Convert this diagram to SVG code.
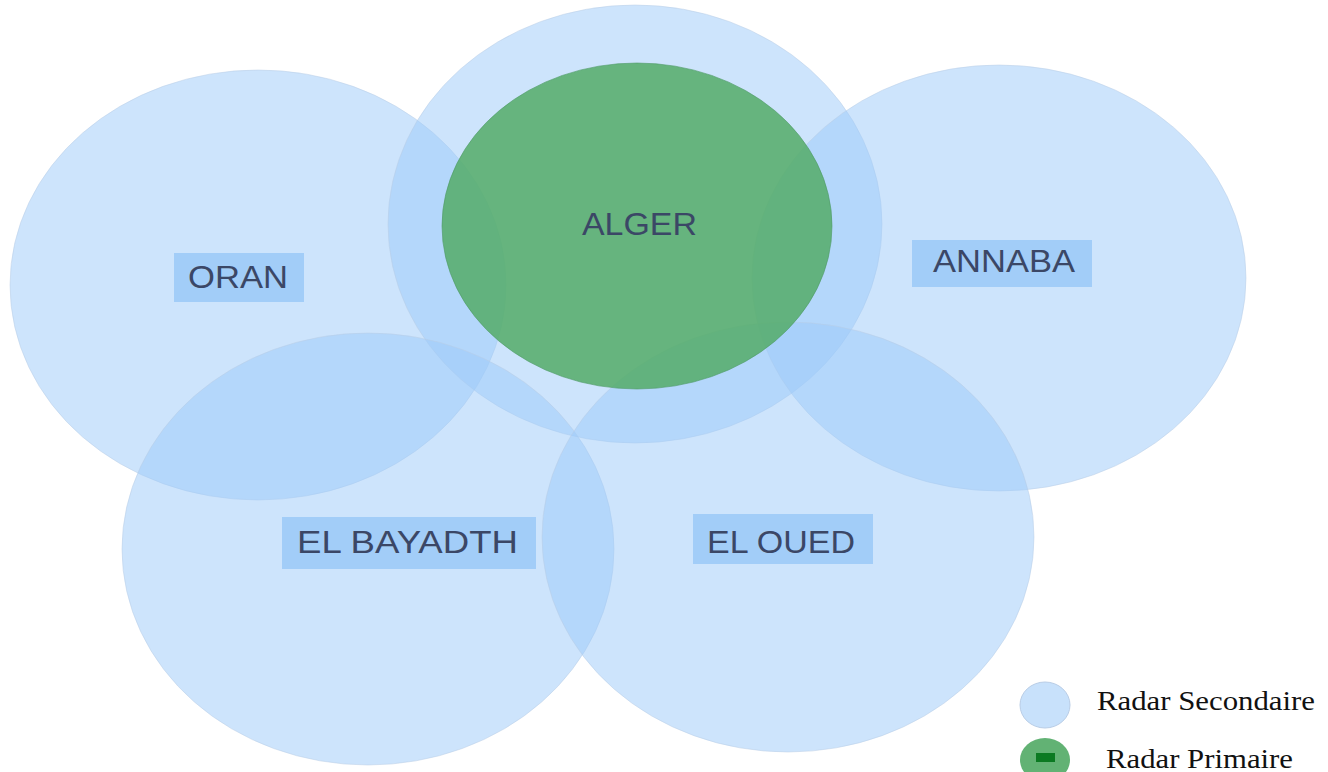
<svg xmlns="http://www.w3.org/2000/svg" width="1328" height="772" viewBox="0 0 1328 772">
<style>
.zone{fill:#9bcaf9;fill-opacity:0.5;stroke:#b9cde6;stroke-width:1;stroke-opacity:0.5}
.prim{fill:#54ab67;fill-opacity:0.85;stroke:#4f9a66;stroke-width:1;stroke-opacity:0.6}
.lbl{fill:#a2cdf8}
.t{font-family:"Liberation Sans",Arial,sans-serif;font-size:31px;fill:#3b4766;text-anchor:start}
.leg{font-family:"Liberation Serif","Times New Roman",serif;font-size:27px;fill:#111}
</style>
<rect width="1328" height="772" fill="#ffffff"/>
<g id="zones">
<ellipse id="zone-oran" class="zone" cx="258" cy="285" rx="248" ry="215"/>
<ellipse id="zone-alger" class="zone" cx="635" cy="224" rx="247" ry="219"/>
<ellipse id="zone-annaba" class="zone" cx="999" cy="278" rx="247" ry="213"/>
<ellipse id="zone-elbayadth" class="zone" cx="368" cy="549" rx="246" ry="216"/>
<ellipse id="zone-eloued" class="zone" cx="788" cy="537" rx="246" ry="215"/>
</g>
<g id="primary">
<ellipse class="prim" cx="637" cy="226" rx="195" ry="163"/>
</g>
<g id="connectors"></g>
<g id="node-oran">
<rect class="lbl" x="174" y="253" width="130" height="49"/>
<text class="t" x="188" y="288" textLength="100" lengthAdjust="spacingAndGlyphs">ORAN</text>
</g>
<g id="node-alger">
<text class="t" x="582" y="235" textLength="115" lengthAdjust="spacingAndGlyphs">ALGER</text>
</g>
<g id="node-annaba">
<rect class="lbl" x="912" y="240" width="180" height="47"/>
<text class="t" x="933" y="272" textLength="142" lengthAdjust="spacingAndGlyphs">ANNABA</text>
</g>
<g id="node-elbayadth">
<rect class="lbl" x="282" y="517" width="254" height="52"/>
<text class="t" x="297" y="553" textLength="221" lengthAdjust="spacingAndGlyphs">EL BAYADTH</text>
</g>
<g id="node-eloued">
<rect class="lbl" x="693" y="514" width="180" height="50"/>
<text class="t" x="707" y="553" textLength="148" lengthAdjust="spacingAndGlyphs">EL OUED</text>
</g>
<g id="legend">
<ellipse cx="1045" cy="705" rx="25" ry="23" fill="#c8e1fb" stroke="#b9cde6"/>
<ellipse cx="1045" cy="760" rx="25" ry="22" fill="#62b274"/>
<rect x="1036" y="753" width="19" height="9" fill="#0b7a22"/>
<text class="leg" x="1097" y="710" textLength="218" lengthAdjust="spacingAndGlyphs">Radar Secondaire</text>
<text class="leg" x="1106" y="768" textLength="187" lengthAdjust="spacingAndGlyphs">Radar Primaire</text>
</g>
</svg>
